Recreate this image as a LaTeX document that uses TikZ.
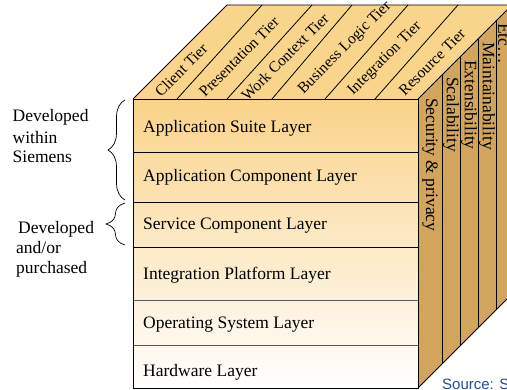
\documentclass[tikz,border=0pt]{standalone}
\usepackage{fontspec}
\setmainfont{Liberation Serif}
\newfontfamily\srcfont{Liberation Sans}
\usetikzlibrary{decorations.pathreplacing}
\definecolor{topface}{HTML}{F9D48B}
\definecolor{sideface}{HTML}{D1A65C}
\definecolor{fronttop}{HTML}{FAD38A}
\definecolor{frontmid}{HTML}{FDE8C4}
\definecolor{srcblue}{HTML}{1F4E99}
\begin{document}
\begin{tikzpicture}[x=1pt,y=-1pt,
  edge/.style={draw=black,line width=0.8pt},
  rowline/.style={draw=black,line width=0.8pt},
  rowlinegray/.style={draw=black!65,line width=0.8pt},
  layertext/.style={anchor=base west,inner sep=0pt,font=\fontsize{17.5}{20.5}\selectfont},
  tiertext/.style={rotate=45,inner sep=0pt,font=\fontsize{15.5}{18}\selectfont},
  qualtext/.style={rotate=-90,anchor=west,inner sep=0pt,font=\fontsize{17.5}{20.5}\selectfont},
  notetext/.style={anchor=base west,inner sep=0pt,font=\fontsize{17.5}{20.5}\selectfont},
  bracestyle/.style={draw=black,line width=0.7pt,decorate,decoration={brace,amplitude=17pt}}
]
\useasboundingbox (0,0) rectangle (507,390);
\clip (0,0) rectangle (507,390);
% top face
\path[fill=topface] (133,99) -- (227,5) -- (512,5) -- (418,99) -- cycle;
% right face
\path[fill=sideface] (418,99) -- (512,5) -- (512,294) -- (418,388) -- cycle;
% front face
\shade[top color=fronttop,middle color=frontmid,bottom color=white] (133,99) rectangle (418,388);
% row lines
\draw[rowline] (133,152) -- (418,152);
\draw[rowline] (133,202) -- (418,202);
\draw[rowline] (133,247) -- (418,247);
\draw[rowlinegray] (133,300) -- (418,300);
\draw[rowlinegray] (133,345) -- (418,345);
% tier lines
\draw[edge] (177,99) -- (262,5);
\draw[edge] (227,99) -- (312,5);
\draw[edge] (272,99) -- (352,5);
\draw[edge] (325,99) -- (408,5);
\draw[edge] (375,99) -- (458,5);
% quality lines
\draw[edge] (442,75) -- (442,364);
\draw[edge] (460,57) -- (460,346);
\draw[edge] (478,39) -- (478,328);
\draw[edge] (496,21) -- (496,310);
% outlines
\draw[edge] (133,99) -- (227,5) -- (512,5);
\draw[edge] (133,99) rectangle (418,388);
\draw[edge] (418,99) -- (512,5);
\draw[edge] (418,388) -- (512,294);
% layer texts
\node[layertext] (suite) at (143,132.7) {Application Suite Layer};
\node[layertext] (appcomp) at (143,181.7) {Application Component Layer};
\node[layertext] (servcomp) at (143,230) {Service Component Layer};
\node[layertext] (integ) at (143,280) {Integration Platform Layer};
\node[layertext] (os) at (143,328.3) {Operating System Layer};
\node[layertext] (hw) at (143,377) {Hardware Layer};
% tier labels
\node[tiertext] (client) at (181,70) {Client Tier};
\node[tiertext] (present) at (239,57) {Presentation Tier};
\node[tiertext] (workctx) at (285,57) {Work Context Tier};
\node[tiertext] (bizlogic) at (345,48) {Business Logic Tier};
\node[tiertext] (integtier) at (385,59) {Integration Tier};
\node[tiertext] (resource) at (432,62) {Resource Tier};
% quality labels
\node[qualtext] (security) at (430,98) {Security \& privacy};
\node[qualtext] (scal) at (451,77) {Scalability};
\node[qualtext] (ext) at (469,60) {Extensibility};
\node[qualtext] (maint) at (487,42) {Maintainability};
\node[qualtext] (etc) at (504,23) {Etc…};
% braces and notes
\coordinate (b1top) at (125,100);
\coordinate (b1bot) at (125,200);
\coordinate (b2top) at (125,203);
\coordinate (b2bot) at (125,245);
\draw[bracestyle] (b1bot) -- (b1top);
\draw[bracestyle,decoration={brace,amplitude=19pt}] (b2bot) -- (b2top);
\node[notetext] (note1a) at (12.5,121.7) {Developed};
\node[notetext] (note1b) at (12.5,143.3) {within};
\node[notetext] (note1c) at (12.5,162.7) {Siemens};
\node[notetext] (note2a) at (18,233.3) {Developed};
\node[notetext] (note2b) at (16,253.3) {and/or};
\node[notetext] (note2c) at (16,274) {purchased};
% source
\node[anchor=base west,inner sep=0pt,text=srcblue,font=\srcfont\fontsize{15}{18}\selectfont] (source) at (442,390) {Source: S};
\end{tikzpicture}
\end{document}
